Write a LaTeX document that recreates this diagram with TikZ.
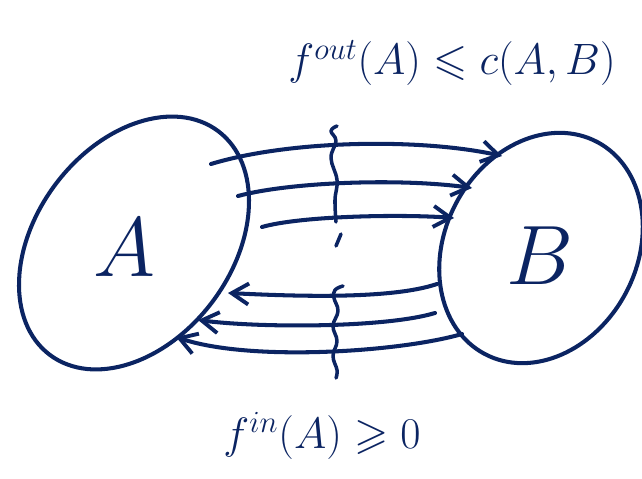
\RequirePackage{fix-cm}
\documentclass[tikz,border=0pt]{standalone}
\usepackage{amsmath}
\usepackage{amssymb}
\usepackage{tikz}
\usetikzlibrary{arrows.meta,positioning,calc}
\definecolor{inkblue}{HTML}{0B2462}
\tikzset{
  ink/.style     = {draw=inkblue,line width=2.3pt,line cap=round,line join=round},
  setlbl/.style  = {text=inkblue,font=\fontsize{48}{52}\selectfont,inner sep=0pt},
  eqlbl/.style   = {text=inkblue,font=\fontsize{25}{30}\selectfont,inner sep=0pt,
                    anchor=base},
  flowarr/.style = {ink,-{Straight Barb[length=3.4mm,width=4.2mm,line width=2.2pt]}},
  cutline/.style = {ink,line width=2pt},
}

\begin{document}
\begin{tikzpicture}[x=0.02cm,y=-0.02cm]
  \useasboundingbox (0,0) rectangle (642,479);
  % The two sets
  \draw[ink,rotate around={-37:(134,243)}] (134,243) ellipse [x radius=98,y radius=140];
  \draw[ink,rotate around={-28:(541,248)}] (541,248) ellipse [x radius=96,y radius=120];
  \node[setlbl] (A) at (124,248) {$A$};
  \node[setlbl] (B) at (540,256) {$B$};

  % Arrow end points
  \coordinate (o1s) at (211,164);  \coordinate (o1e) at (502,156);
  \coordinate (o2s) at (238,196);  \coordinate (o2e) at (472,188);
  \coordinate (o3s) at (262,227);  \coordinate (o3e) at (454,218);
  \coordinate (i1s) at (437,284);  \coordinate (i1e) at (228,293);
  \coordinate (i2s) at (435,313);  \coordinate (i2e) at (198,320);
  \coordinate (i3s) at (462,334);  \coordinate (i3e) at (176,337);

  % Flow A -> B
  \draw[flowarr] (o1s) .. controls (290,140) and (420,138) .. (o1e);
  \draw[flowarr] (o2s) .. controls (290,182) and (400,178) .. (o2e);
  \draw[flowarr] (o3s) .. controls (300,216) and (400,214) .. (o3e);
  % Flow B -> A
  \draw[flowarr] (i1s) .. controls (390,300) and (290,296) .. (i1e);
  \draw[flowarr] (i2s) .. controls (385,328) and (260,328) .. (i2e);
  \draw[flowarr] (i3s) .. controls (400,352) and (250,362) .. (i3e);

  % The cut
  \draw[cutline] plot[smooth,tension=0.7] coordinates {
      (337,126) (331,131) (336,141) (331,158) (337,180) (335,200) (336,222)};
  \draw[cutline] (341,234) -- (336,246);
  \draw[cutline] plot[smooth,tension=0.7] coordinates {
      (343,286) (335,290) (334,298) (338,311) (333,326) (337,341)
      (333,356) (337,370) (336,378)};

  % Flow constraints
  \node[eqlbl] (fout) at (452,75) {$f^{out}(A)\leqslant c(A,B)$};
  \node[eqlbl] (fin)  at (322,448) {$f^{in}(A)\geqslant 0$};
\end{tikzpicture}
\end{document}
